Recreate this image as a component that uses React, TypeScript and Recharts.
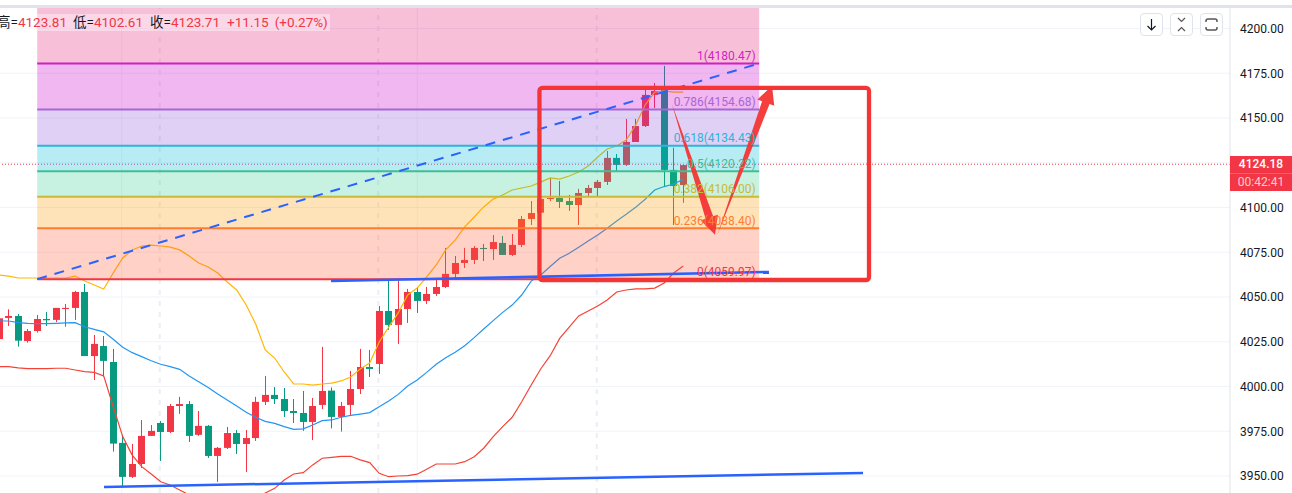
import React from "react";
import {
  Bar,
  CartesianGrid,
  ComposedChart,
  Line,
  ReferenceArea,
  ReferenceLine,
  XAxis,
  YAxis,
} from "recharts";

// candles, oldest first
const opens = [
  4026.5, 4038.3, 4039.4, 4025.4, 4031.0, 4037.7, 4037.2, 4043.3, 4043.9, 4052.8,
  4017.0, 4022.6, 4013.7, 3968.5, 3949.5, 3956.7, 3972.4, 3979.6, 3974.6, 3989.1,
  3990.2, 3973.0, 3978.0, 3961.2, 3965.7, 3974.0, 3967.9, 3971.2, 3991.4, 3995.3,
  3993.0, 3986.3, 3985.2, 3980.2, 3989.7, 3997.7, 3983.0, 3989.7, 3998.6, 4010.9,
  4012.6, 4042.2, 4034.4, 4043.3, 4052.8, 4047.8, 4051.7, 4055.6, 4062.9, 4069.0,
  4070.7, 4077.4, 4076.8, 4080.2, 4073.5, 4079.1, 4093.6, 4097.1, 4104.8, 4105.3,
  4103.6, 4101.4, 4108.1, 4110.9, 4114.3, 4127.7, 4123.8, 4136.6, 4145.5, 4162.9,
  4165.6, 4121.0, 4112.56,
];
const closes = [
  4038.1, 4039.4, 4025.6, 4031.0, 4037.7, 4037.0, 4043.9, 4043.9, 4052.8, 4017.0,
  4023.8, 4014.3, 3968.1, 3949.5, 3956.7, 3972.4, 3975.2, 3974.6, 3989.1, 3990.2,
  3972.4, 3978.0, 3961.2, 3965.7, 3974.0, 3967.9, 3971.2, 3991.4, 3995.3, 3993.0,
  3986.3, 3985.2, 3980.2, 3989.1, 3997.5, 3983.0, 3989.1, 3998.6, 4010.9, 4009.8,
  4042.2, 4034.4, 4043.3, 4052.8, 4047.8, 4051.7, 4055.6, 4062.9, 4069.0, 4070.7,
  4077.4, 4076.8, 4080.7, 4073.5, 4079.1, 4093.6, 4096.9, 4104.8, 4105.3, 4103.1,
  4101.4, 4108.1, 4110.9, 4114.3, 4127.7, 4123.8, 4136.6, 4145.5, 4162.9, 4165.1,
  4121.0, 4112.0, 4123.71,
];
const highs = [
  4040.0, 4043.1, 4040.5, 4032.1, 4040.0, 4041.6, 4043.9, 4046.1, 4053.4, 4057.3,
  4028.8, 4028.2, 4021.0, 3972.9, 3967.9, 3981.3, 3978.5, 3980.7, 3990.2, 3994.2,
  3991.9, 3986.3, 3978.5, 3966.2, 3977.4, 3975.7, 3975.7, 3994.2, 4005.9, 3999.7,
  3999.2, 3993.0, 3997.5, 3993.6, 4022.1, 3999.5, 3991.4, 4008.7, 4021.0, 4020.4,
  4045.0, 4059.9, 4059.5, 4054.5, 4055.6, 4055.6, 4059.5, 4077.4, 4072.9, 4077.4,
  4078.5, 4079.6, 4084.6, 4084.1, 4085.2, 4095.3, 4103.6, 4104.8, 4116.5, 4114.8,
  4107.0, 4110.4, 4112.6, 4115.4, 4131.6, 4129.9, 4149.5, 4149.5, 4166.2, 4169.6,
  4179.1, 4133.4, 4123.81,
];
const lows = [
  4024.0, 4033.8, 4022.3, 4024.5, 4030.1, 4033.8, 4036.0, 4033.4, 4037.2, 4017.0,
  4003.6, 4005.5, 3963.6, 3944.4, 3948.9, 3954.5, 3972.4, 3958.4, 3974.0, 3984.7,
  3969.0, 3972.4, 3960.1, 3946.7, 3965.1, 3962.3, 3952.2, 3969.6, 3989.7, 3990.2,
  3983.0, 3979.6, 3975.2, 3970.1, 3987.4, 3976.6, 3974.8, 3983.5, 3995.8, 4005.3,
  4007.0, 4031.6, 4023.7, 4035.5, 4041.1, 4046.1, 4050.6, 4055.0, 4060.4, 4066.2,
  4068.4, 4070.1, 4070.7, 4073.5, 4072.9, 4077.9, 4090.2, 4096.8, 4103.6, 4099.7,
  4098.1, 4090.2, 4106.4, 4106.4, 4112.6, 4120.4, 4123.2, 4136.6, 4145.0, 4155.6,
  4111.5, 4090.2, 4102.61,
];

// bollinger bands
const upperBand = [
  4062.3, 4061.7, 4060.6, 4060.6, 4060.6, 4060.6, 4060.6, 4060.6, 4061.7, 4058.9,
  4056.7, 4054.5, 4063.4, 4071.8, 4076.3, 4078.5, 4079.0, 4078.5, 4077.9, 4076.3,
  4072.9, 4069.0, 4066.8, 4063.4, 4058.4, 4053.9, 4045.5, 4034.9, 4020.4, 4015.9,
  4008.1, 4001.4, 4001.4, 4000.8, 4001.4, 4001.9, 4003.1, 4005.3, 4009.8, 4013.1,
  4024.9, 4033.2, 4041.1, 4051.1, 4055.0, 4061.2, 4067.9, 4076.3, 4081.8, 4089.1,
  4094.7, 4100.3, 4104.7, 4107.0, 4109.8, 4110.9, 4112.0, 4114.2, 4116.5, 4115.9,
  4117.6, 4119.8, 4123.2, 4128.2, 4132.7, 4134.4, 4137.7, 4146.1, 4157.3, 4164.5,
  4165.1, 4164.5, 4164.5,
];
const middleBand = [
  4036.6, 4036.6, 4035.7, 4035.3, 4035.1, 4035.1, 4035.3, 4035.5, 4035.7, 4033.4,
  4031.9, 4030.5, 4026.4, 4021.9, 4018.9, 4016.7, 4014.4, 4012.4, 4011.1, 4009.6,
  4005.9, 4002.7, 3999.4, 3995.8, 3992.5, 3989.1, 3985.6, 3982.8, 3980.5, 3979.4,
  3977.6, 3976.1, 3976.3, 3978.5, 3980.9, 3981.3, 3982.8, 3983.9, 3984.6, 3985.4,
  3988.7, 3991.9, 3995.6, 4000.3, 4003.6, 4007.9, 4012.4, 4016.1, 4019.1, 4022.8,
  4027.3, 4032.1, 4036.8, 4041.4, 4045.5, 4051.1, 4058.9, 4062.3, 4067.0, 4071.6,
  4074.4, 4077.8, 4081.3, 4084.6, 4088.4, 4092.5, 4096.2, 4100.1, 4104.6, 4109.8,
  4111.7, 4113.1, 4115.7,
];
const lowerBand = [
  4011.1, 4011.1, 4010.4, 4010.0, 4010.0, 4010.0, 4010.2, 4010.2, 4009.2, 4008.3,
  4007.9, 4005.9, 3988.8, 3972.0, 3961.7, 3955.2, 3951.1, 3946.8, 3945.0, 3942.2,
  3939.4, 3936.6, 3933.8, 3931.0, 3931.0, 3931.0, 3933.8, 3938.2, 3940.5, 3943.1,
  3947.8, 3951.1, 3951.9, 3956.2, 3959.9, 3960.4, 3961.0, 3961.0, 3959.0, 3957.5,
  3951.5, 3949.6, 3950.0, 3950.2, 3951.0, 3953.8, 3956.7, 3956.7, 3956.7, 3958.0,
  3960.8, 3965.5, 3972.0, 3977.6, 3982.8, 3991.5, 4000.8, 4009.8, 4017.2, 4026.9,
  4033.2, 4039.4, 4042.2, 4045.0, 4048.3, 4052.8, 4053.9, 4054.5, 4054.5, 4055.0,
  4057.8, 4063.4, 4067.3,
];

const gridPrices = [4200, 4175, 4150, 4125, 4100, 4075, 4050, 4025, 4000, 3975, 3950];
// 4125 sits behind the last price tag
const axisPrices = [4200, 4175, 4150, 4100, 4075, 4050, 4025, 4000, 3975, 3950];

// fibonacci retracement drawing, x in bar indexes
const fibStart = 4;
const fibEnd = 80;
const fibLevels = [4180.47, 4154.68, 4134.43, 4120.22, 4106.0, 4088.4, 4059.97];
const fibLabels = [
  "1(4180.47)",
  "0.786(4154.68)",
  "0.618(4134.43)",
  "0.5(4120.22)",
  "0.382(4106.00)",
  "0.236(4088.40)",
  "0(4059.97)",
];
const fibColors = ["#d21fc4", "#a866d6", "#2bb5d8", "#3fc08f", "#c9b93a", "#ff7d33", "#f23645"];
const fibFills = ["#e42a7d", "#cd12cd", "#8343d7", "#00bcdc", "#1fc884", "#ff9a00", "#ff5a36"];
const fibOpacity = [0.3, 0.3, 0.25, 0.28, 0.25, 0.28, 0.28];

// vertical time grid
const solidGridX = [12.9, 44];
const dashedGridX = [16.9, 39.9, 62.9];

const lastPrice = 4124.18;

const candleRows = opens.map((open, i) => ({
  idx: i,
  open,
  close: closes[i],
  high: highs[i],
  low: lows[i],
  range: [lows[i], highs[i]],
  upper: upperBand[i],
  middle: middleBand[i],
  lower: lowerBand[i],
}));

const UP = "#f23645";
const DOWN = "#089981";
const PLOT_TOP = 4211.45;
const PLOT_BOTTOM = 3940.5;

const Candle = (props: any) => {
  const { x, y, width, height, payload } = props;
  const perUnit = height / (payload.high - payload.low || 1);
  const top = y + (payload.high - Math.max(payload.open, payload.close)) * perUnit;
  const bottom = y + (payload.high - Math.min(payload.open, payload.close)) * perUnit;
  const color = payload.close >= payload.open ? UP : DOWN;
  const mid = Math.round(x + width / 2);
  return (
    <g>
      <line x1={mid + 0.5} x2={mid + 0.5} y1={y} y2={y + height} stroke={color} strokeWidth={1} />
      <rect x={mid - 3} y={top} width={7} height={Math.max(bottom - top, 1)} fill={color} />
    </g>
  );
};

// tapered red arrow drawn between the two segment ends
const TaperArrow = (props: any) => {
  const { x1, y1, x2, y2 } = props;
  const dx = x2 - x1;
  const dy = y2 - y1;
  const len = Math.hypot(dx, dy);
  const ux = dx / len;
  const uy = dy / len;
  const nx = -uy;
  const ny = ux;
  const neckX = x2 - ux * 18;
  const neckY = y2 - uy * 18;
  const pts = [
    [x1, y1],
    [neckX + nx * 4, neckY + ny * 4],
    [neckX + nx * 9, neckY + ny * 9],
    [x2, y2],
    [neckX - nx * 9, neckY - ny * 9],
    [neckX - nx * 4, neckY - ny * 4],
  ];
  return <polygon points={pts.map((p) => p.join(",")).join(" ")} fill="#f43535" fillOpacity={0.95} />;
};

const iconBox: React.CSSProperties = {
  position: "absolute",
  top: 13,
  width: 23,
  height: 23,
  border: "1px solid #e0e3eb",
  borderRadius: 4,
  background: "#fff",
  boxSizing: "border-box",
};

const LegendValue = ({ text, gap = 0 }: { text: string; gap?: number }) => (
  <span style={{ color: UP, marginRight: gap }}>{text}</span>
);

export default function App() {
  const zoneTops = [PLOT_TOP, ...fibLevels];
  return (
    <div
      style={{
        position: "absolute",
        left: 0,
        top: 0,
        width: 1292,
        height: 493,
        overflow: "hidden",
        background: "#fff",
        fontFamily: "Roboto, 'Noto Sans CJK SC', sans-serif",
      }}
    >
      <ComposedChart
        width={1292}
        height={493}
        data={candleRows}
        margin={{ top: 8, right: 0, bottom: 0, left: 0 }}
      >
        <CartesianGrid horizontalValues={gridPrices} vertical={false} stroke="#f0f3fa" />
        <XAxis
          dataKey="idx"
          type="number"
          domain={[0.084, 129.56]}
          allowDataOverflow
          hide
          height={0}
        />
        <YAxis
          orientation="right"
          width={62}
          domain={[PLOT_BOTTOM, PLOT_TOP]}
          allowDataOverflow
          ticks={axisPrices}
          interval={0}
          tickLine={false}
          tickMargin={4}
          axisLine={{ stroke: "#e0e3eb" }}
          tick={{ fill: "#131722", fontSize: 12 }}
          tickFormatter={(v: number) => v.toFixed(2)}
        />
        {solidGridX.map((x) => (
          <ReferenceLine key={x} x={x} stroke="#f0f3fa" zIndex={-50} />
        ))}
        {dashedGridX.map((x) => (
          <ReferenceLine key={x} x={x} stroke="#eceef5" strokeWidth={2} strokeDasharray="5 6" zIndex={-50} />
        ))}

        <Bar dataKey="range" barSize={7} shape={<Candle />} isAnimationActive={false} />
        <Line dataKey="upper" stroke="#ffb703" strokeWidth={1.2} dot={false} isAnimationActive={false} />
        <Line dataKey="middle" stroke="#2196f3" strokeWidth={1.2} dot={false} isAnimationActive={false} />
        <Line dataKey="lower" stroke="#f44336" strokeWidth={1.2} dot={false} isAnimationActive={false} />

        <ReferenceLine y={lastPrice} stroke={UP} strokeDasharray="1 2" zIndex={450} />

        {/* fib zones sit over the candles, that is why they look tinted */}
        {fibLevels.map((level, i) => (
          <ReferenceArea
            key={level}
            x1={fibStart}
            x2={fibEnd}
            y1={zoneTops[i]}
            y2={level}
            fill={fibFills[i]}
            fillOpacity={fibOpacity[i]}
            stroke="none"
            zIndex={500}
          />
        ))}
        {fibLevels.map((level, i) => (
          <ReferenceLine
            key={level}
            segment={[
              { x: fibStart, y: level },
              { x: fibEnd, y: level },
            ]}
            stroke={fibColors[i]}
            strokeWidth={2}
            zIndex={510}
            label={{
              value: fibLabels[i],
              position: "insideBottomRight",
              offset: 3.5,
              fill: fibColors[i],
              fontSize: 12,
            }}
          />
        ))}

        {/* trend lines */}
        <ReferenceLine
          segment={[
            { x: fibStart, y: 4059.97 },
            { x: fibEnd, y: 4180.47 },
          ]}
          stroke="#2962ff"
          strokeWidth={2}
          strokeDasharray="10 8"
          zIndex={520}
        />
        <ReferenceLine
          segment={[
            { x: 34.93, y: 4058.9 },
            { x: 81.03, y: 4064.0 },
          ]}
          stroke="#2962ff"
          strokeWidth={2.5}
          zIndex={520}
        />
        <ReferenceLine
          segment={[
            { x: 11.03, y: 3943.9 },
            { x: 90.93, y: 3951.7 },
          ]}
          stroke="#2962ff"
          strokeWidth={2.5}
          zIndex={520}
        />

        {/* hand drawn box and arrows */}
        <ReferenceArea
          x1={56.87}
          x2={91.56}
          y1={4166.8}
          y2={4059.5}
          fill="none"
          stroke="#f43535"
          strokeWidth={4.3}
          radius={3}
          zIndex={530}
        />
        <ReferenceLine
          segment={[
            { x: 70.8, y: 4158.0 },
            { x: 75.35, y: 4084.8 },
          ]}
          shape={<TaperArrow />}
          zIndex={530}
        />
        <ReferenceLine
          segment={[
            { x: 75.6, y: 4084.8 },
            { x: 81.35, y: 4168.0 },
          ]}
          shape={<TaperArrow />}
          zIndex={530}
        />
      </ComposedChart>

      {/* toolbar band and OHLC legend */}
      <div style={{ position: "absolute", left: 0, top: 5, width: 1292, height: 3, background: "#e0e3eb" }} />
      <div
        style={{
          position: "absolute",
          left: -3,
          top: 14,
          height: 17,
          paddingRight: 2,
          lineHeight: "17px",
          fontSize: 13.5,
          whiteSpace: "pre",
          color: "#131722",
          background: "rgba(255,255,255,0.4)",
        }}
      >
        高=
        <LegendValue text="4123.81" gap={6} />
        低=
        <LegendValue text="4102.61" gap={7} />
        收=
        <LegendValue text="4123.71" gap={7} />
        <LegendValue text="+11.15" gap={6} />
        <LegendValue text="(+0.27%)" />
      </div>

      {/* top right buttons */}
      <div style={{ ...iconBox, left: 1140 }}>
        <svg width="21" height="21" fill="none" stroke="#131722" strokeWidth="1.2">
          <path d="M10.5 5v11M6.5 12l4 4 4-4" />
        </svg>
      </div>
      <div style={{ ...iconBox, left: 1170 }}>
        <svg width="21" height="21" fill="none" stroke="#555" strokeWidth="1.2">
          <path d="M7 4l3.5 3.5L14 4M7 17l3.5-3.5L14 17" />
        </svg>
      </div>
      <div style={{ ...iconBox, left: 1200 }}>
        <svg width="21" height="21" fill="none" stroke="#555" strokeWidth="1.5">
          <path d="M7 5h7a2 2 0 0 1 2 2v1M5 8V7a2 2 0 0 1 2-2M5 13v1a2 2 0 0 0 2 2h7a2 2 0 0 0 2-2v-1" />
        </svg>
      </div>

      {/* last price tag */}
      <div
        style={{
          position: "absolute",
          left: 1230,
          top: 156,
          width: 62,
          height: 35,
          background: UP,
          color: "#fff",
          fontSize: 12,
          textAlign: "center",
          lineHeight: "17px",
        }}
      >
        <div style={{ fontWeight: 500 }}>{lastPrice.toFixed(2)}</div>
        <div style={{ color: "#fcc", borderTop: "1px solid #f6606c" }}>00:42:41</div>
      </div>
    </div>
  );
}
